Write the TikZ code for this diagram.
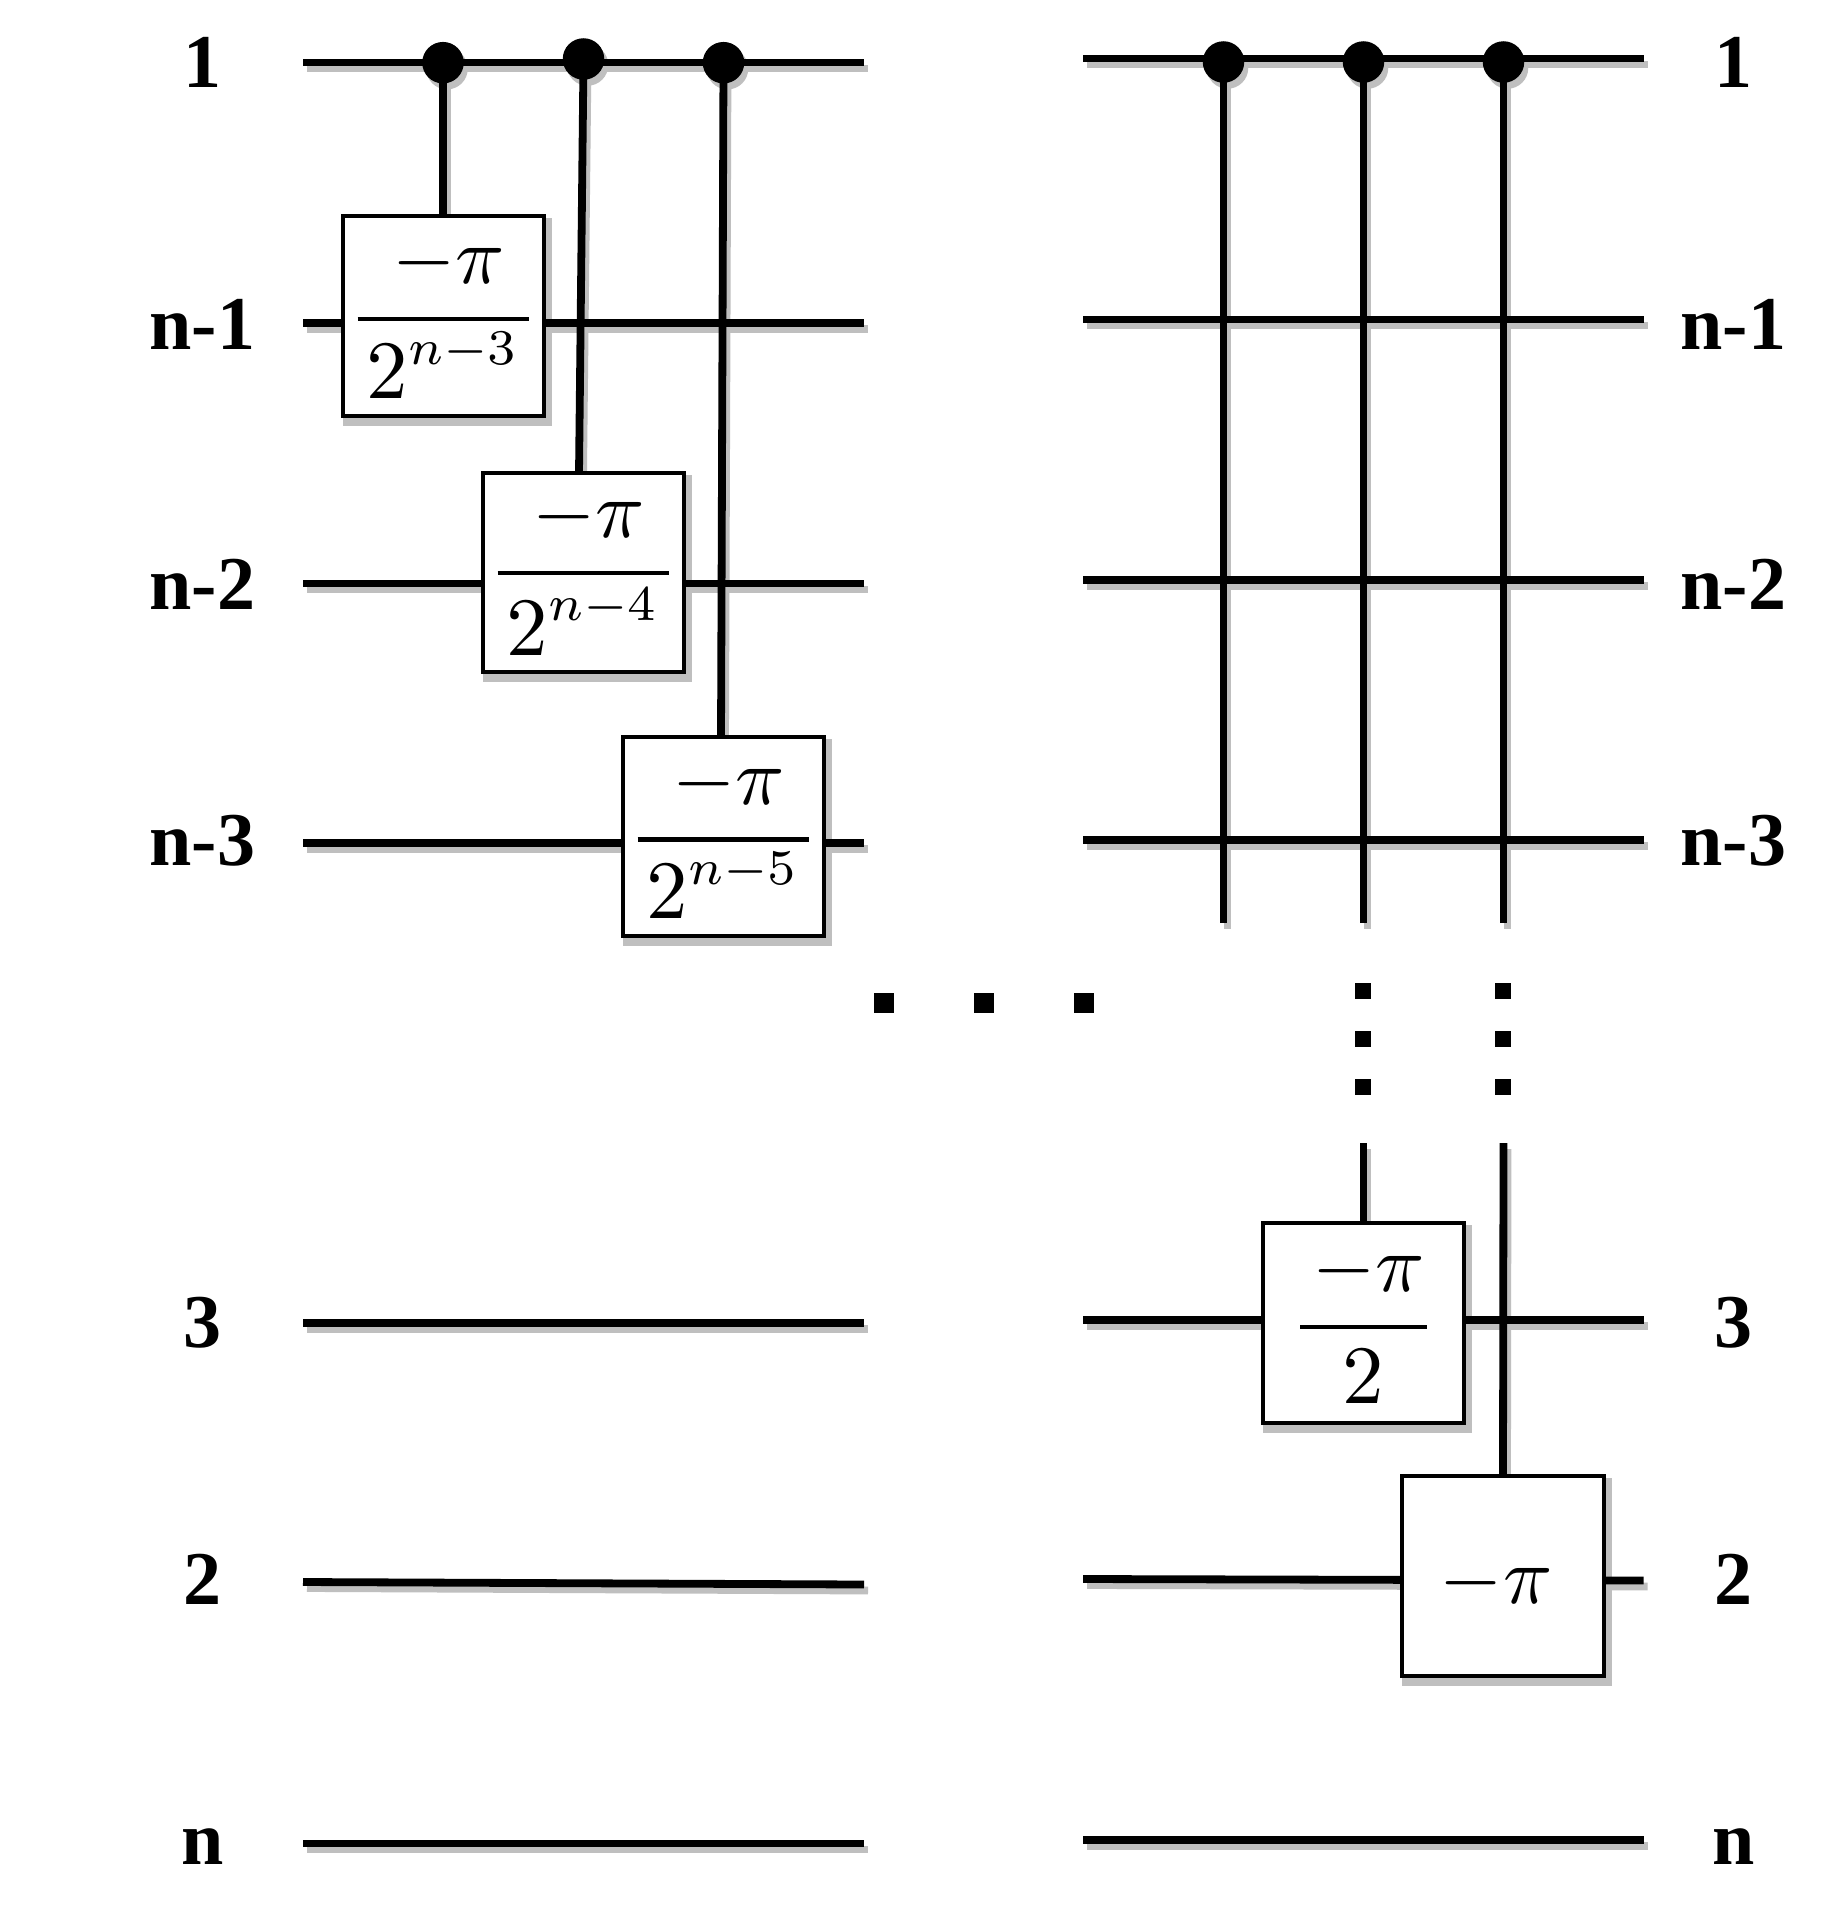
\documentclass[tikz,border=0pt]{standalone}
\usepackage{amsmath}
\usepackage[no-math]{fontspec}
\newfontfamily\labelfont{Liberation Serif}
\pgfdeclarelayer{shadowlayer}
\pgfdeclarelayer{gatelayer}
\pgfsetlayers{shadowlayer,main,gatelayer}
\definecolor{shadegray}{RGB}{191,191,191}
\tikzset{
  wireline/.style={line width=7.8pt,black},
  shadeline/.style={line width=7.8pt,shadegray,transform canvas={shift={(4,6)}}},
  gate/.style={draw=black,line width=4pt,fill=white,rectangle,inner sep=0pt,minimum width=201.5pt,minimum height=199.5pt},
  ctrl/.style={circle,fill=black,inner sep=0pt,minimum size=41.5pt},
  qlabel/.style={font=\labelfont\bfseries\fontsize{76}{76}\selectfont,anchor=base,inner sep=0pt},
  sq/.style={fill=black,rectangle,inner sep=0pt,minimum width=20pt,minimum height=20pt},
  sqv/.style={fill=black,rectangle,inner sep=0pt,minimum width=16pt,minimum height=16pt}
}
\newcommand{\wirelink}[2]{%
  \begin{pgfonlayer}{shadowlayer}\draw[shadeline] (#1) -- (#2);\end{pgfonlayer}%
  \draw[wireline] (#1) -- (#2);}
\newcommand{\gatemath}[1]{\scalebox{8.3}{$\displaystyle #1$}}
\newcommand{\minuspi}{\scalebox{0.98}{$-\pi$}}
% #1 rule width, #2 denominator, #3 numerator kern, #4 whole shift down, #5 denominator raise
\newcommand{\gatefrac}[5]{\raisebox{-#4}[\height][\depth]{\gatemath{\genfrac{}{}{0.55pt}{}{\hspace*{#3}\minuspi}{\makebox[#1]{\raisebox{#5}[\height][\depth]{$\displaystyle #2$}}}}}}
\newcommand{\expo}[1]{2^{\scalebox{0.86}{$\scriptstyle #1$}}}
\newcommand{\gateshade}[1]{%
  \begin{pgfonlayer}{shadowlayer}\fill[shadegray,transform canvas={shift={(4,6)}}] ([shift={(-2,2)}]#1.south west) rectangle ([shift={(2,-2)}]#1.north east);\end{pgfonlayer}}
\begin{document}
\begin{tikzpicture}[x=1pt,y=-1pt]
\useasboundingbox (0,0) rectangle (1822,1910);
\begin{pgfonlayer}{shadowlayer}\fill[white] (0,0) rectangle (1822,1910);\end{pgfonlayer}
% wire end points, left block
\coordinate (la1) at (303,62.5);   \coordinate (lb1) at (864,62.5);
\coordinate (la2) at (303,322.7);  \coordinate (lb2) at (864,322.7);
\coordinate (la3) at (303,583.5);  \coordinate (lb3) at (864,583.5);
\coordinate (la4) at (303,843);    \coordinate (lb4) at (864,843);
\coordinate (la5) at (303,1323);   \coordinate (lb5) at (864,1323);
\coordinate (la6) at (303,1582);   \coordinate (lb6) at (864,1584.5);
\coordinate (la7) at (303,1843.5); \coordinate (lb7) at (864,1843.5);
% right block
\coordinate (ra1) at (1083,58.5);   \coordinate (rb1) at (1643.5,58.5);
\coordinate (ra2) at (1083,319.5);  \coordinate (rb2) at (1643.5,319.5);
\coordinate (ra3) at (1083,580);    \coordinate (rb3) at (1643.5,580);
\coordinate (ra4) at (1083,840);    \coordinate (rb4) at (1643.5,840);
\coordinate (ra5) at (1083,1320);   \coordinate (rb5) at (1643.5,1320);
\coordinate (ra6) at (1083,1579);   \coordinate (rb6) at (1643.5,1580.5);
\coordinate (ra7) at (1083,1840);   \coordinate (rb7) at (1643.5,1840);
% gates
\begin{pgfonlayer}{gatelayer}
\node[gate] (g1) at (443.5,316) {\gatefrac{20.7pt}{\expo{n-3}}{1.25pt}{3pt}{0.4pt}};
\node[gate] (g2) at (583.5,572.5) {\gatefrac{20.7pt}{\expo{n-4}}{1.25pt}{0.5pt}{0.07pt}};
\node[gate] (g3) at (723.5,836.5) {\gatefrac{20.7pt}{\expo{n-5}}{1.25pt}{3pt}{0.4pt}};
\node[gate] (g4) at (1363.5,1323) {\gatefrac{15.3pt}{2}{1.15pt}{1.5pt}{0.18pt}};
\node[gate] (g5) at (1503,1576) {};
\node[inner sep=0pt] (g5t) at (1496,1583) {\gatemath{\minuspi}};
\end{pgfonlayer}
\gateshade{g1}\gateshade{g2}\gateshade{g3}\gateshade{g4}\gateshade{g5}
% horizontal wires
\foreach \i in {1,...,7}{\wirelink{la\i}{lb\i}\wirelink{ra\i}{rb\i}}
% control dots
\node[ctrl] (c1) at (443,62.7) {};
\node[ctrl] (c2) at (583.5,59) {};
\node[ctrl] (c3) at (723.5,62.7) {};
\node[ctrl] (c4) at (1223.5,62) {};
\node[ctrl] (c5) at (1363.5,62) {};
\node[ctrl] (c6) at (1503.5,62) {};
\begin{pgfonlayer}{shadowlayer}
\foreach \c in {c1,c2,c3,c4,c5,c6}{\fill[shadegray,transform canvas={shift={(4,6)}}] (\c) circle (20.75);}
\end{pgfonlayer}
% controls to gates
\coordinate (g1t) at (443,215);
\coordinate (g2t) at (579,473);
\coordinate (g3t) at (721,737);
\wirelink{c1.center}{g1t}
\wirelink{c2.center}{g2t}
\wirelink{c3.center}{g3t}
\coordinate (e4) at (1223.5,923);
\coordinate (e5) at (1363.5,923);
\coordinate (e6) at (1503.5,923);
\wirelink{c4.center}{e4}
\wirelink{c5.center}{e5}
\wirelink{c6.center}{e6}
\coordinate (s5) at (1363.5,1143);
\coordinate (s6) at (1503.5,1143);
\wirelink{s5}{g4.north}
\wirelink{s6}{g5.north}
% ellipsis marks
\node[sq] (h1) at (883.5,1003) {};
\node[sq] (h2) at (983.5,1003) {};
\node[sq] (h3) at (1083.7,1003) {};
\node[sqv] (v1) at (1363,991) {};
\node[sqv] (v2) at (1363,1039) {};
\node[sqv] (v3) at (1363,1087) {};
\node[sqv] (v4) at (1503,991) {};
\node[sqv] (v5) at (1503,1039) {};
\node[sqv] (v6) at (1503,1087) {};
% labels
\node[qlabel] (l1) at (202.5,88) {1};
\node[qlabel] (l2) at (202.5,349) {n-1};
\node[qlabel] (l3) at (202.5,609) {n-2};
\node[qlabel] (l4) at (202.5,865) {n-3};
\node[qlabel] (l5) at (202.5,1347) {3};
\node[qlabel] (l6) at (202.5,1604) {2};
\node[qlabel] (l7) at (202.5,1864) {n};
\node[qlabel] (r1) at (1733.5,88) {1};
\node[qlabel] (r2) at (1733.5,349) {n-1};
\node[qlabel] (r3) at (1733.5,609) {n-2};
\node[qlabel] (r4) at (1733.5,865) {n-3};
\node[qlabel] (r5) at (1733.5,1347) {3};
\node[qlabel] (r6) at (1733.5,1604) {2};
\node[qlabel] (r7) at (1733.5,1864) {n};
\end{tikzpicture}
\end{document}
